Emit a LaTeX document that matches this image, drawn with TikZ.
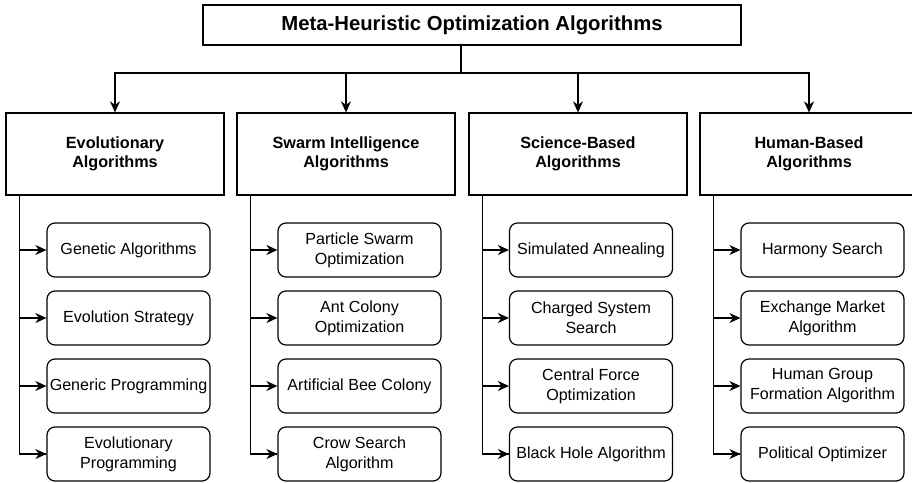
\documentclass[tikz,border=0pt]{standalone}
\usepackage{fontspec}
\setmainfont{Liberation Sans}
\usetikzlibrary{arrows.meta}

\tikzset{
  root/.style={draw, minimum width=538pt, minimum height=40pt,
    font=\fontsize{20.3}{24}\selectfont\bfseries},
  family/.style={draw, minimum width=218pt, minimum height=82pt, align=center,
    font=\fontsize{16.2}{19.5}\selectfont\bfseries},
  algo/.style={draw, rounded corners=8pt, minimum width=163pt, minimum height=54pt,
    align=center, inner sep=1pt, font=\fontsize{16.1}{20}\selectfont},
}

\begin{document}
\begin{tikzpicture}[x=1pt, y=-1pt, line width=1.2pt,
    >={Stealth[length=11pt, width=10pt, inset=3.5pt]}]
  \clip (0,0) rectangle (912,482);

  % root and the four families
  \node[root] (meta) at (472,25) {Meta-Heuristic Optimization Algorithms};
  \node[family] (evo)   at (115,154) {Evolutionary\\Algorithms};
  \node[family] (swarm) at (346,154) {Swarm Intelligence\\Algorithms};
  \node[family] (sci)   at (578,154) {Science-Based\\Algorithms};
  \node[family] (human) at (809,154) {Human-Based\\Algorithms};

  \coordinate (bus) at (461,73);
  \draw (meta.south -| bus) -- (bus);
  \draw [->] (bus) -| (evo.north);
  \draw [->] (bus) -| (swarm.north);
  \draw [->] (bus) -| (sci.north);
  \draw [->] (bus) -| (human.north);

  % evolutionary
  \node[algo] (e1) at (128.5,250) {Genetic Algorithms};
  \node[algo] (e2) at (128.5,318) {Evolution Strategy};
  \node[algo] (e3) at (128.5,386) {Generic Programming};
  \node[algo] (e4) at (128.5,454) {Evolutionary\\Programming};

  % swarm intelligence
  \node[algo] (s1) at (359.5,250) {Particle Swarm\\Optimization};
  \node[algo] (s2) at (359.5,318) {Ant Colony\\Optimization};
  \node[algo] (s3) at (359.5,386) {Artificial Bee Colony};
  \node[algo] (s4) at (359.5,454) {Crow Search\\Algorithm};

  % science-based
  \node[algo] (c1) at (591,250) {Simulated Annealing};
  \node[algo] (c2) at (591,318) {Charged System\\Search};
  \node[algo] (c3) at (591,386) {Central Force\\Optimization};
  \node[algo] (c4) at (591,454) {Black Hole Algorithm};

  % human-based
  \node[algo] (h1) at (822.5,250) {Harmony Search};
  \node[algo] (h2) at (822.5,318) {Exchange Market\\Algorithm};
  \node[algo] (h3) at (822.5,386) {Human Group\\Formation Algorithm};
  \node[algo] (h4) at (822.5,454) {Political Optimizer};

  % spines down the left of each family
  \foreach \fam/\kid in {evo/e, swarm/s, sci/c, human/h} {
    \draw ([xshift=14pt]\fam.south west) coordinate (\fam-spine) |- (\kid4.west);
    \foreach \i in {1,...,4}
      \draw [->] (\fam-spine |- \kid\i.west) -- (\kid\i.west);
  }
\end{tikzpicture}
\end{document}
